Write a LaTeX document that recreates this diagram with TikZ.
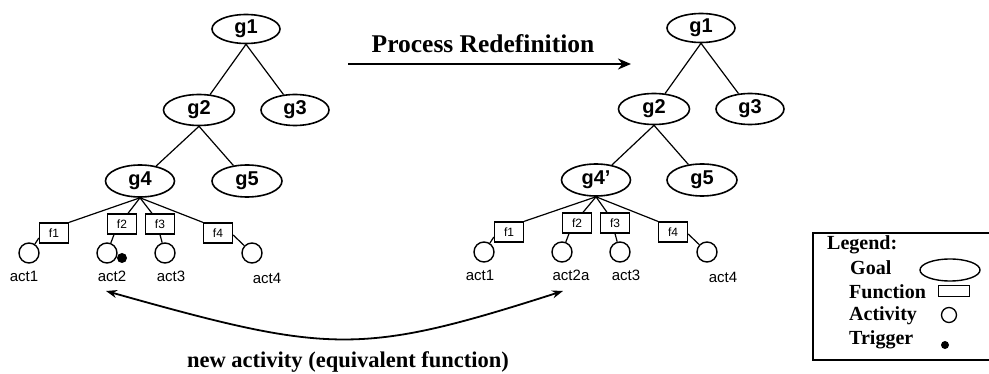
\documentclass[tikz,border=0pt]{standalone}
\usepackage{fontspec}
\setmainfont{Liberation Serif}
\setsansfont{Liberation Sans}
\usetikzlibrary{arrows.meta,shapes.geometric}

\begin{document}
\begin{tikzpicture}[x=1pt,y=-1pt,
  goal/.style={ellipse, draw, line width=1.6pt, minimum width=68pt, minimum height=29pt,
    inner sep=0pt, font=\sffamily\bfseries\fontsize{20}{20}\selectfont},
  func/.style={rectangle, draw, line width=1.3pt, minimum width=29pt, minimum height=20pt,
    inner sep=0pt, font=\sffamily\fontsize{12}{12}\selectfont},
  act/.style={circle, draw, line width=1.4pt, minimum size=20pt, inner sep=0pt},
  trig/.style={circle, fill, minimum size=10pt, inner sep=0pt},
  lab/.style={inner sep=0pt, font=\sffamily\fontsize{15}{15}\selectfont},
  edge/.style={line width=1.2pt},
  legtext/.style={anchor=west, inner sep=0pt, font=\bfseries\fontsize{20}{20}\selectfont}]

\useasboundingbox (0,0) rectangle (989,374);

% ---------- original goal tree ----------
\node[goal] (Lg1) at (246,29) {g1};
\node[goal, minimum width=71pt, minimum height=31pt] (Lg2) at (199,110) {g2};
\node[goal, minimum height=31pt] (Lg3) at (295,110) {g3};
\node[goal, minimum width=69pt, minimum height=32pt] (Lg4) at (140,181) {g4};
\node[goal, minimum width=70pt, minimum height=32pt] (Lg5) at (247,181) {g5};
\node[func] (Lf1) at (54,233) {f1};
\node[func] (Lf2) at (122,224) {f2};
\node[func] (Lf3) at (160,224) {f3};
\node[func] (Lf4) at (218,233) {f4};
\node[act] (La1) at (29,253) {};
\node[act] (La2) at (107,253) {};
\node[trig] (Lt2) at (122,258) {};
\node[act] (La3) at (165,253) {};
\node[act] (La4) at (252,253) {};
\node[lab] (Ll1) at (24,276) {act1};
\node[lab] (Ll2) at (112,276) {act2};
\node[lab] (Ll3) at (171,276) {act3};
\node[lab] (Ll4) at (267,278) {act4};

\draw[edge] (Lg1.south) -- (Lg2);
\draw[edge] (Lg1.south) -- (Lg3);
\draw[edge] (Lg2.south) -- (Lg4);
\draw[edge] (Lg2.south) -- (Lg5);
\draw[edge] (Lg4.south) -- (Lf1.north east);
\draw[edge] (Lg4.south) -- ([xshift=6pt]Lf2.north);
\draw[edge] (Lg4.south) -- ([xshift=-8pt]Lf3.north);
\draw[edge] (Lg4.south) -- (Lf4.north west);
\draw[edge] ([yshift=-5pt]Lf1.west) -- (La1);
\draw[edge] ([xshift=-8pt]Lf2.south) -- (La2);
\draw[edge] (Lf3.south) -- (La3);
\draw[edge] ([yshift=-2pt]Lf4.east) -- (La4);

% ---------- redefined goal tree ----------
\node[goal] (Rg1) at (701,28) {g1};
\node[goal, minimum width=71pt, minimum height=31pt] (Rg2) at (654,109) {g2};
\node[goal, minimum height=31pt] (Rg3) at (750,109) {g3};
\node[goal, minimum width=69pt, minimum height=32pt] (Rg4) at (596,180) {g4’};
\node[goal, minimum width=70pt, minimum height=32pt] (Rg5) at (702,180) {g5};
\node[func] (Rf1) at (509,232) {f1};
\node[func] (Rf2) at (577,223) {f2};
\node[func] (Rf3) at (615,223) {f3};
\node[func] (Rf4) at (673,232) {f4};
\node[act] (Ra1) at (484,252) {};
\node[act] (Ra2) at (562,252) {};
\node[act] (Ra3) at (620,252) {};
\node[act] (Ra4) at (707,252) {};
\node[lab] (Rl1) at (480,275) {act1};
\node[lab] (Rl2) at (571,275) {act2a};
\node[lab] (Rl3) at (626,275) {act3};
\node[lab] (Rl4) at (723,277) {act4};

\draw[edge] (Rg1.south) -- (Rg2);
\draw[edge] (Rg1.south) -- (Rg3);
\draw[edge] (Rg2.south) -- (Rg4);
\draw[edge] (Rg2.south) -- (Rg5);
\draw[edge] (Rg4.south) -- (Rf1.north east);
\draw[edge] (Rg4.south) -- ([xshift=6pt]Rf2.north);
\draw[edge] (Rg4.south) -- ([xshift=-8pt]Rf3.north);
\draw[edge] (Rg4.south) -- (Rf4.north west);
\draw[edge] ([yshift=-5pt]Rf1.west) -- (Ra1);
\draw[edge] ([xshift=-8pt]Rf2.south) -- (Ra2);
\draw[edge] (Rf3.south) -- (Ra3);
\draw[edge] ([yshift=-2pt]Rf4.east) -- (Ra4);

% ---------- process redefinition arrow ----------
\node[inner sep=0pt, font=\bfseries\fontsize{25.5}{25.5}\selectfont] (prt) at (483,44) {Process Redefinition};
\coordinate (pa) at (348,64);
\coordinate (pb) at (631,64);
\draw[line width=2.6pt, -{Stealth[length=13pt,width=11pt]}] (pa) -- (pb);

% ---------- equivalent-activity link ----------
\coordinate (ea) at (106,291);
\coordinate (eb) at (563,291);
\draw[line width=1.8pt, {Stealth[length=11pt,width=8pt]}-{Stealth[length=11pt,width=8pt]}]
  (ea) .. controls (330,354) and (360,356) .. (eb);
\node[inner sep=0pt, font=\bfseries\fontsize{22.5}{22.5}\selectfont] (eqt) at (348,362) {new activity (equivalent function)};

% ---------- legend ----------
\draw[line width=1.3pt] (992,233) -- (813,233) -- (813,360) -- (992,360);
\node[legtext] (lgt) at (827,245) {Legend:};
\node[legtext] (lgg) at (850,268) {Goal};
\node[legtext] (lgf) at (849,292) {Function};
\node[legtext] (lga) at (849,316) {Activity};
\node[legtext] (lgr) at (849,340) {Trigger};
\node[ellipse, draw, line width=1.4pt, minimum width=60pt, minimum height=22pt, inner sep=0pt] (lsg) at (950,270) {};
\node[rectangle, draw, line width=1.1pt, minimum width=31pt, minimum height=11pt, inner sep=0pt] (lsf) at (954,291) {};
\node[circle, draw, line width=1.3pt, minimum size=15pt, inner sep=0pt] (lsa) at (949,315) {};
\node[circle, fill, minimum size=8pt, inner sep=0pt] (lsr) at (945,345) {};
\end{tikzpicture}
\end{document}
